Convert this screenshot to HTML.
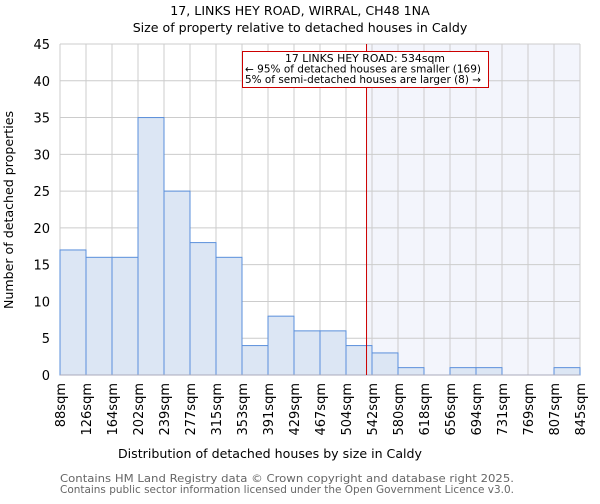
<!DOCTYPE html>
<html><head><meta charset="utf-8"><style>
body{margin:0;background:#fff;font-family:"DejaVu Sans","Liberation Sans",sans-serif}
svg text{font-family:"DejaVu Sans","Liberation Sans",sans-serif}
</style></head><body>
<svg id="c" width="600" height="500" xmlns="http://www.w3.org/2000/svg">
<text x="300" y="15" text-anchor="middle" font-size="12.6">17, LINKS HEY ROAD, WIRRAL, CH48 1NA</text>
<text x="300" y="32" text-anchor="middle" font-size="12.6">Size of property relative to detached houses in Caldy</text>
<g id="plot"></g>
<text x="270" y="458" text-anchor="middle" font-size="12.6">Distribution of detached houses by size in Caldy</text>
<text transform="translate(13,210) rotate(-90)" text-anchor="middle" font-size="12.6">Number of detached properties</text>
<text x="60" y="482" font-size="10.5" textLength="454" lengthAdjust="spacingAndGlyphs" fill="#666">Contains HM Land Registry data © Crown copyright and database right 2025.</text>
<text x="60" y="493" font-size="10.5" textLength="454" lengthAdjust="spacingAndGlyphs" fill="#666">Contains public sector information licensed under the Open Government Licence v3.0.</text>
</svg>
<script>
const categories=["88sqm","126sqm","164sqm","202sqm","239sqm","277sqm","315sqm","353sqm","391sqm","429sqm","467sqm","504sqm","542sqm","580sqm","618sqm","656sqm","694sqm","731sqm","769sqm","807sqm","845sqm"];
const edges=[88,126,164,202,239,277,315,353,391,429,467,504,542,580,618,656,694,731,769,807,845];
const counts=[17,16,16,35,25,18,16,4,8,6,6,4,3,1,0,1,1,0,0,1];
const yTicks=[0,5,10,15,20,25,30,35,40,45];
const subjectSize=534;
const L=60,R=580,T=44,B=375,yMax=45;
const NS="http://www.w3.org/2000/svg";
const g=document.getElementById('plot');
const bw=(R-L)/counts.length;
function xi(i){return L+i*bw;}
function xv(v){for(let i=0;i<edges.length-1;i++){if(v<=edges[i+1])return xi(i)+(v-edges[i])/(edges[i+1]-edges[i])*bw;}return R;}
function y(v){return B-v/yMax*(B-T);}
function mk(t,a){const e=document.createElementNS(NS,t);for(const k in a)e.setAttribute(k,a[k]);g.appendChild(e);return e;}
const sx=xv(subjectSize);
let e=mk('rect',{x:sx,y:T,width:R-sx,height:B-T,fill:'#f3f5fc'});


yTicks.forEach(t=>{
 let l=mk('line',{x1:L,x2:R,y1:y(t),y2:y(t),stroke:'#ccc'});
 
 
 let tx=mk('text',{x:L-10,y:y(t)+5,'text-anchor':'end','font-size':'13'});tx.textContent=t;
 
 
});
categories.forEach((c,i)=>{
 let l=mk('line',{x1:xi(i),x2:xi(i),y1:T,y2:B,stroke:'#ccc'});
 
 
 const X=xi(i);
 let tx=mk('text',{transform:`translate(${X+5},${B+8}) rotate(-90)`,'text-anchor':'end','font-size':'13'});tx.textContent=c;
 
 
});
counts.forEach((v,i)=>{
 if(v<=0)return;
 let r=mk('rect',{x:xi(i),y:y(v),width:bw,height:B-y(v),fill:'#dce6f4',stroke:'#5a8fdb','stroke-width':1});
 
 
});
e=mk('line',{x1:L,x2:R,y1:B,y2:B,stroke:'#aab'});


e=mk('line',{x1:sx,x2:sx,y1:T,y2:B,stroke:'#cc0000','stroke-width':1});


e=mk('rect',{x:242.5,y:51.5,width:246,height:36,fill:'#fff',stroke:'#cc0000'});


[["17 LINKS HEY ROAD: 534sqm",62,'middle',365,160],["← 95% of detached houses are smaller (169)",72.5,'start',245,236],["5% of semi-detached houses are larger (8) →",83,'start',245,236]].forEach(a=>{
 let t=mk('text',{x:a[3],y:a[1],'text-anchor':a[2],'font-size':'10.3',textLength:a[4],lengthAdjust:'spacingAndGlyphs'});t.textContent=a[0];
 
 
});
</script>
</body></html>
